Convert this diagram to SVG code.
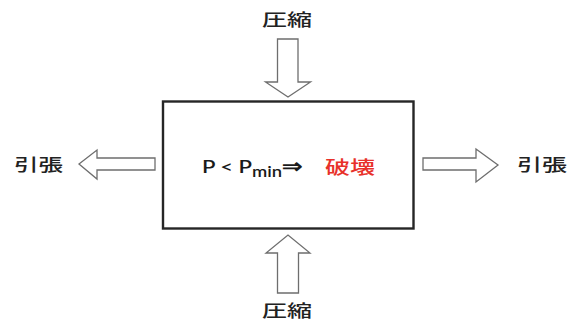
<svg xmlns="http://www.w3.org/2000/svg" width="575" height="327" viewBox="0 0 575 327">
<style>
.arrow{fill:#fff;stroke:#6e6e6e;stroke-width:1.3;stroke-linejoin:miter}
.lbl{font-family:"Noto Sans CJK JP","Noto Sans",sans-serif;font-size:17px;font-weight:500;fill:#222}
.box{fill:#fff;stroke:#262626;stroke-width:2.4}
.eq{font-family:Lato,"Noto Sans",sans-serif;font-size:18px;font-weight:600;fill:#1a1a1a}
.red{font-family:"Noto Sans CJK JP",sans-serif;font-size:18px;font-weight:500;fill:#e8312a}
</style>
<rect width="575" height="327" fill="#fff"/>
<g id="connectors">
<polygon class="arrow" points="277.5,39 298,39 298,82 310.5,82 288,97 265.5,82 277.5,82"/>
<polygon class="arrow" points="277.5,293 298.5,293 298.5,253 310,253 288,235 266,253 277.5,253"/>
<polygon class="arrow" points="155,158 97,158 97,150 79,164 97,179 97,170 155,170"/>
<polygon class="arrow" points="423,158 476,158 476,149 498,165 476,182 476,170 423,170"/>
</g>
<g id="box">
<rect class="box" x="163" y="101.5" width="250.5" height="127"/>
<text class="eq" x="202" y="173" textLength="101" lengthAdjust="spacingAndGlyphs">P &lt; P<tspan font-size="15" dy="4">min</tspan><tspan dy="-4" font-size="20">⇒</tspan></text>
<text class="red" x="325" y="174" textLength="50" lengthAdjust="spacingAndGlyphs">破壊</text>
</g>
<g id="top-label"><text class="lbl" x="262" y="26" textLength="50" lengthAdjust="spacingAndGlyphs">圧縮</text></g>
<g id="bottom-label"><text class="lbl" x="262" y="317" textLength="50" lengthAdjust="spacingAndGlyphs">圧縮</text></g>
<g id="left-label"><text class="lbl" x="14" y="171" textLength="49" lengthAdjust="spacingAndGlyphs">引張</text></g>
<g id="right-label"><text class="lbl" x="517" y="171" textLength="50" lengthAdjust="spacingAndGlyphs">引張</text></g>
</svg>
